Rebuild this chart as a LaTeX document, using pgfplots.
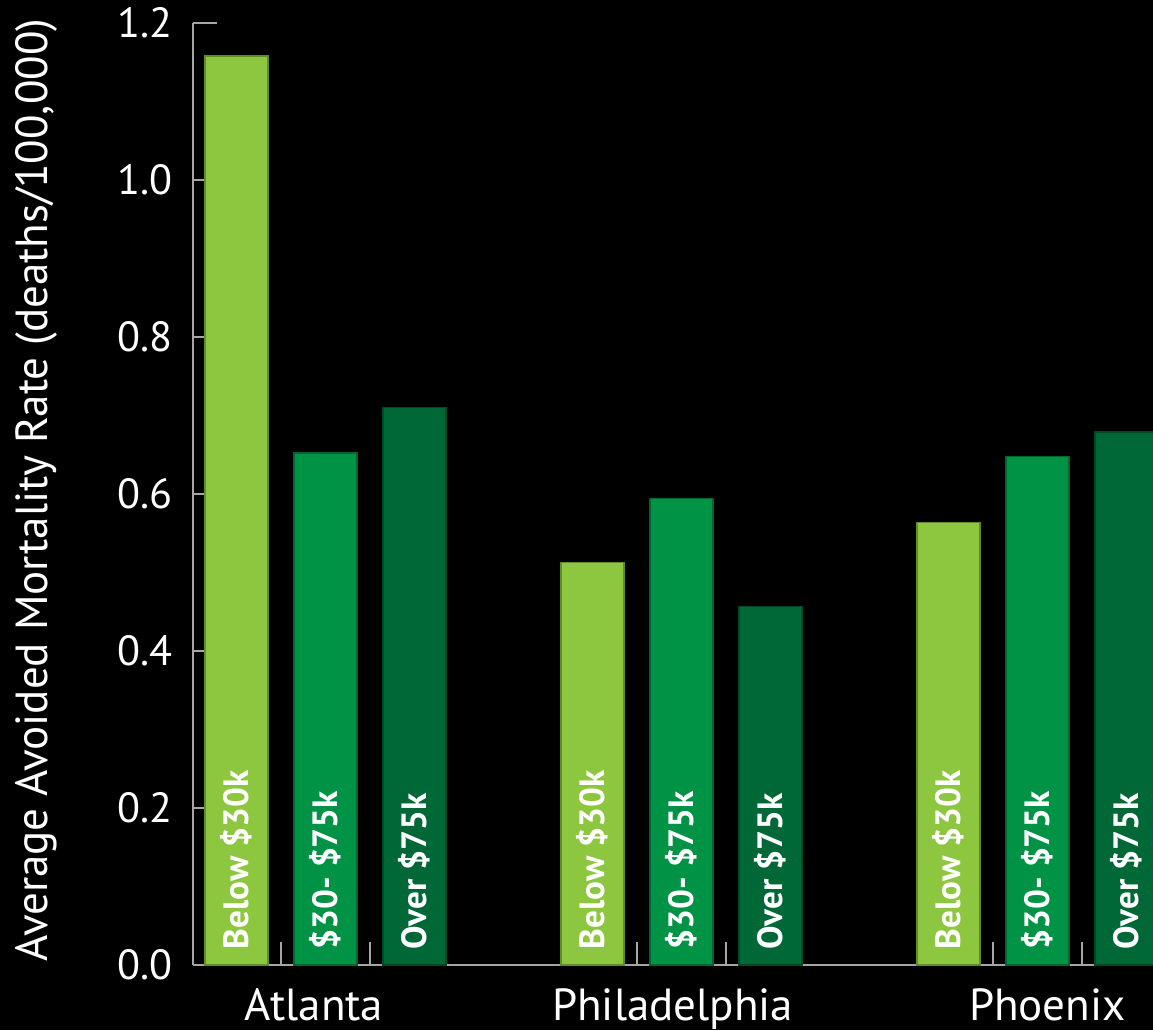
\documentclass[border=0pt]{standalone}
\usepackage{pgfplots}
\pgfplotsset{compat=1.18}
\usepackage{fontspec}
\setmainfont{PT Sans}
\definecolor{lowinc}{HTML}{8DC63F}
\definecolor{midinc}{HTML}{009245}
\definecolor{highinc}{HTML}{006837}
\definecolor{axisgray}{HTML}{A6A6A6}

\begin{document}
\begin{tikzpicture}
% black page background
\fill[black] (-1.93,-0.65) rectangle (9.60,9.65);
\begin{axis}[
  at={(0,0)}, anchor=south west,
  scale only axis, width=9.6cm, height=9.42cm,
  xmin=-0.489, xmax=10.298, ymin=0, ymax=1.2,
  axis x line=bottom, axis y line=left,
  axis line style={axisgray, line width=0.6pt, -},
  tick align=inside,
  tick style={axisgray, line width=0.45pt},
  major tick length=0.12cm,
  minor tick length=0.23cm,
  ytick={0,0.2,0.4,0.6,0.8,1.0},
  extra y ticks={1.2},
  extra y tick style={major tick length=0.24cm},
  xtick={0.87,4.9,9.11},
  xticklabels={Atlanta,Philadelphia,Phoenix},
  major x tick style={draw=none},
  % separators between the bars of a city, rising from the baseline
  minor xtick={0.5,1.5,4.5,5.5,8.5,9.5},
  minor x tick style={yshift=0.23cm},
  /pgf/number format/.cd, fixed, fixed zerofill, precision=1, assume math mode=true,
  /pgfplots/.cd,
  yticklabel style={font=\fontsize{12}{12}\selectfont, text=white, anchor=east, inner sep=0pt, xshift=-0.2cm},
  xticklabel style={font=\fontsize{12.8}{13}\selectfont, text=white, anchor=base, inner sep=0pt, yshift=-0.43cm},
  ylabel={Average Avoided Mortality Rate (deaths/100,000)},
  ylabel style={at={(axis description cs:-0.1635,0.504)}, anchor=center, text=white,
    font=\fontsize{12.8}{13}\selectfont},
  ybar, bar shift=0pt, bar width=0.708,
]
% income below $30k
\addplot[fill=lowinc, draw=lowinc!70!black, line width=0.4pt]
  coordinates {(0,1.158) (4,0.513) (8,0.564)};
% income $30k-$75k
\addplot[fill=midinc, draw=midinc!70!black, line width=0.4pt]
  coordinates {(1,0.652) (5,0.594) (9,0.648)};
% income over $75k
\addplot[fill=highinc, draw=highinc!70!black, line width=0.4pt]
  coordinates {(2,0.710) (6,0.457) (10,0.679)};

% rotated income labels inside the bars
\foreach \xx/\lab in {0/{Below \$30k},4/{Below \$30k},8/{Below \$30k},
                      1/{\$30- \$75k},5/{\$30- \$75k},9/{\$30- \$75k},
                      2/{Over \$75k},6/{Over \$75k},10/{Over \$75k}}{
  \edef\temp{\noexpand\node[rotate=90, anchor=west, text=white,
      font=\noexpand\bfseries\noexpand\fontsize{10}{10}\noexpand\selectfont, inner sep=0pt]
      at ([yshift=0.15cm]axis cs:\xx,0) {\unexpanded\expandafter{\lab}};}
  \temp
}
\end{axis}
\pgfresetboundingbox
\path[use as bounding box] (-1.93,-0.65) rectangle (9.60,9.65);
\end{tikzpicture}
\end{document}
